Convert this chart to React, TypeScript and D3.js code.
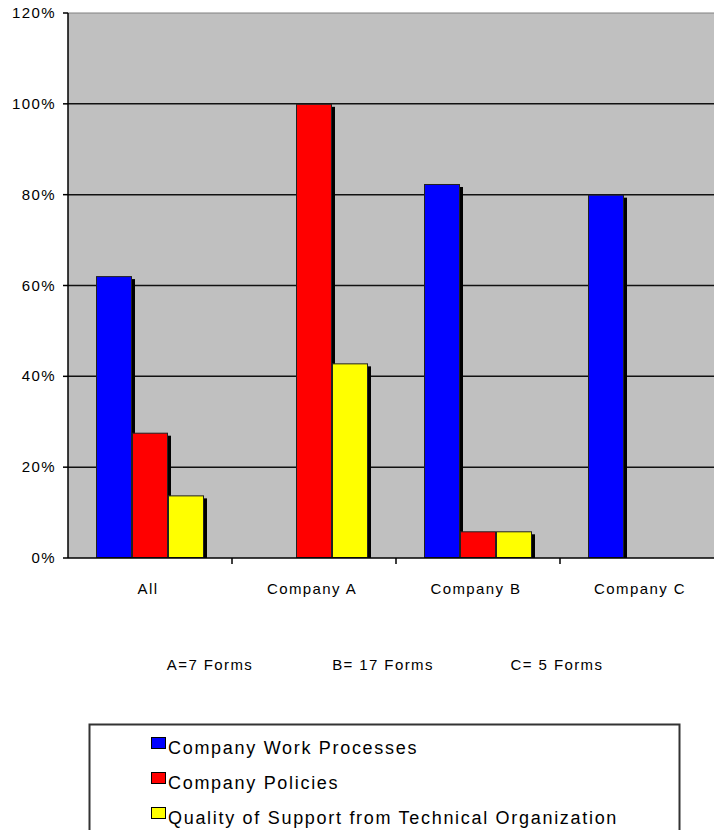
import React from "react";
import * as d3 from "d3";

const categories = ["All", "Company A", "Company B", "Company C"];
const seriesNames = [
  "Company Work Processes",
  "Company Policies",
  "Quality of Support from Technical Organization",
];
const seriesColors = ["#0000ff", "#ff0000", "#ffff00"];
const workProcesses = [0.6207, 0, 0.8235, 0.8];
const policies = [0.2759, 1.0, 0.0588, 0];
const techSupport = [0.1379, 0.4286, 0.0588, 0];
const yTicks = [0, 0.2, 0.4, 0.6, 0.8, 1.0, 1.2];
const footnotes = ["A=7 Forms", "B= 17 Forms", "C= 5 Forms"];

const W = 714;
const H = 830;
const plotLeft = 68;
const plotRight = 724;
const plotTop = 13;
const plotBottom = 558;
const FONT = "'Liberation Sans', Arial, sans-serif";

export default function App() {
  const series = [workProcesses, policies, techSupport];
  const x = d3.scaleBand<string>().domain(categories).range([plotLeft, plotRight]).paddingInner(0).paddingOuter(0);
  const inner = d3
    .scaleBand<number>()
    .domain([0, 1, 2])
    .range([28, x.bandwidth() - 28])
    .padding(0);
  const y = d3.scaleLinear().domain([0, 1.2]).range([plotBottom, plotTop]);
  const fmt = d3.format(".0%");

  const bars: any[] = [];
  categories.forEach((c, ci) => {
    series.forEach((s, si) => {
      const v = s[ci];
      if (v > 0) {
        bars.push({ key: `${ci}-${si}`, x: (x(c) as number) + (inner(si) as number), y: y(v), h: y(0) - y(v), color: seriesColors[si] });
      }
    });
  });

  const footX = [210, 383, 557];

  return (
    <svg width={W} height={H} style={{ position: "absolute", left: 0, top: 0, background: "#fff" }} fontFamily={FONT}>
      <rect x={plotLeft} y={plotTop} width={W - plotLeft} height={plotBottom - plotTop} fill="#c0c0c0" />
      <line x1={plotLeft} x2={W} y1={plotTop} y2={plotTop} stroke="#808080" strokeWidth={1} />
      {yTicks.slice(1, -1).map((t) => (
        <line key={t} x1={plotLeft} x2={W} y1={y(t)} y2={y(t)} stroke="#111" strokeWidth={1.5} />
      ))}
      {bars.map((b) => (
        <rect key={"s" + b.key} x={b.x + 3} y={b.y + 3} width={inner.bandwidth()} height={b.h - 3} fill="#000" />
      ))}
      {bars.map((b) => (
        <rect key={b.key} x={b.x + 0.5} y={b.y + 0.5} width={inner.bandwidth() - 1} height={b.h - 1} fill={b.color} stroke="#222" strokeWidth={1} />
      ))}
      <line x1={plotLeft} x2={plotLeft} y1={plotTop} y2={plotBottom} stroke="#000" strokeWidth={1.5} />
      <line x1={plotLeft} x2={W} y1={plotBottom} y2={plotBottom} stroke="#000" strokeWidth={1.5} />
      {yTicks.map((t) => (
        <g key={t}>
          <line x1={63} x2={plotLeft} y1={y(t)} y2={y(t)} stroke="#000" strokeWidth={1.5} />
          <text x={56} y={y(t) + 5} textAnchor="end" fontSize={15} letterSpacing={1.4} fill="#000">
            {fmt(t)}
          </text>
        </g>
      ))}
      {categories.map((c, i) => (
        <g key={c}>
          {i > 0 && <line x1={x(c)} x2={x(c)} y1={plotBottom} y2={plotBottom + 6} stroke="#000" strokeWidth={1.5} />}
          <text x={(x(c) as number) + x.bandwidth() / 2 - 2} y={594} textAnchor="middle" fontSize={15} letterSpacing={1.4} fill="#000">
            {c}
          </text>
        </g>
      ))}
      {footnotes.map((f, i) => (
        <text key={f} x={footX[i]} y={670} textAnchor="middle" fontSize={15} letterSpacing={1.4} fill="#000">
          {f}
        </text>
      ))}
      <rect x={89.5} y={724.5} width={590} height={120} fill="#fff" stroke="#333" strokeWidth={2} />
      {seriesNames.map((n, i) => (
        <g key={n}>
          <rect x={151.5} y={737.5 + i * 35} width={14} height={11} fill={seriesColors[i]} stroke="#000" strokeWidth={1} />
          <text x={168} y={754 + i * 35} fontSize={18} letterSpacing={1.7} fill="#000">
            {n}
          </text>
        </g>
      ))}
    </svg>
  );
}
